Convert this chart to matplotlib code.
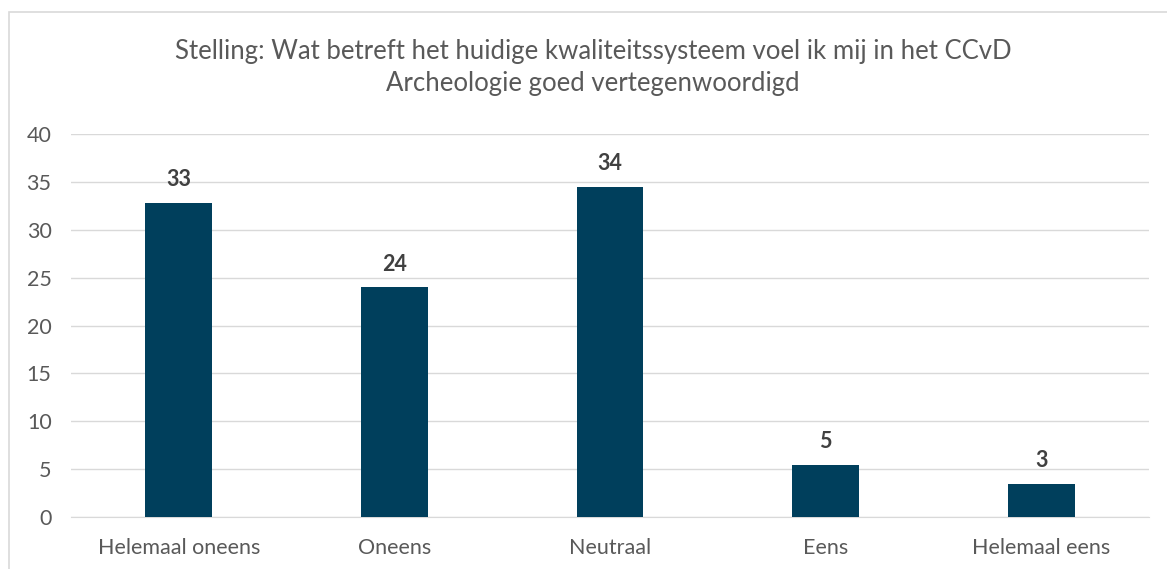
import matplotlib
matplotlib.use("Agg")
import matplotlib.pyplot as plt
from matplotlib.patches import Rectangle

categories = ["Helemaal oneens", "Oneens", "Neutraal", "Eens", "Helemaal eens"]
values = [32.8, 24.0, 34.5, 5.45, 3.45]
labels = ["33", "24", "34", "5", "3"]
yticks = [0, 5, 10, 15, 20, 25, 30, 35, 40]
title = "Stelling: Wat betreft het huidige kwaliteitssysteem voel ik mij in het CCvD\nArcheologie goed vertegenwoordigd"

plt.rcParams['font.family'] = ['Lato', 'DejaVu Sans']

W, H = 1167, 569
fig = plt.figure(figsize=(W/100, H/100), dpi=100)
fig.patch.set_facecolor("white")

# chart border
fig.patches.append(Rectangle((9/W, -0.2), 1.5, (H-12)/H + 0.2, transform=fig.transFigure,
                             fill=False, edgecolor="#D9D9D9", linewidth=1.2))

ax = fig.add_axes([71/W, 1-517/H, (1149-71)/W, (517-134)/H])
x = range(len(categories))
bars = ax.bar(x, values, width=0.31, color="#003F5C", zorder=3)
for b, lab in zip(bars, labels):
    ax.annotate(lab, (b.get_x()+b.get_width()/2, b.get_height()), xytext=(0, 9),
                textcoords="offset points", ha="center", va="bottom",
                fontsize=15.5, fontweight="bold", color="#404040")

ax.set_ylim(0, 40)
ax.set_xlim(-0.5, len(categories)-0.5)
ax.set_yticks(yticks)
ax.set_xticks(list(x))
ax.set_xticklabels(categories)
ax.grid(axis="y", color="#D9D9D9", linewidth=1, zorder=0)
for s in ["top", "right", "left"]:
    ax.spines[s].set_visible(False)
ax.spines["bottom"].set_color("#D9D9D9")
ax.tick_params(axis="both", length=0, labelsize=15.5, colors="#595959")
ax.tick_params(axis="y", pad=14)
ax.tick_params(axis="x", pad=15)

fig.text(593/W, 1-68/H, title, ha="center", va="center", fontsize=18.5,
         color="#595959", linespacing=1.35)

fig.savefig("out.png", dpi=100)
